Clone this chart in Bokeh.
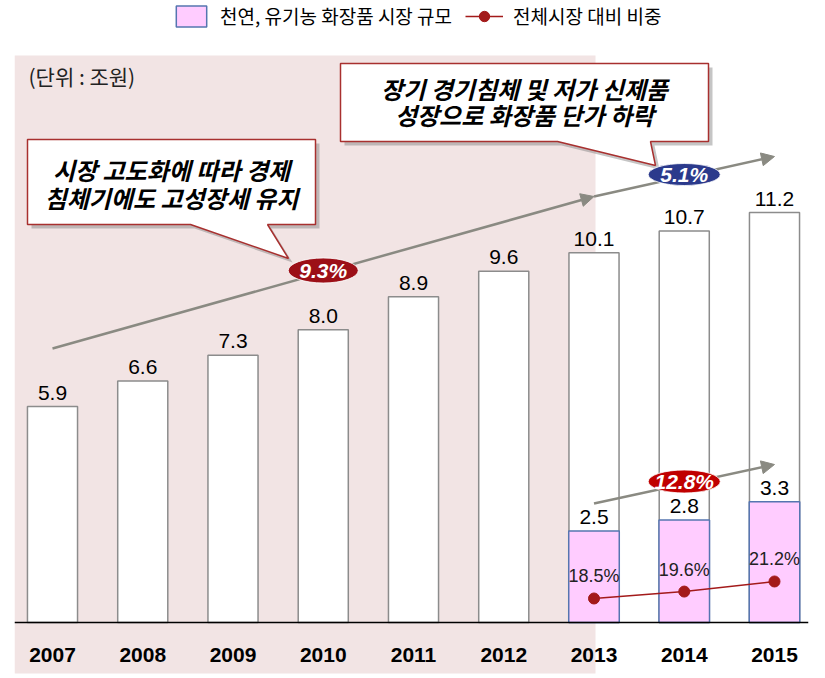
from bokeh.plotting import figure
from bokeh.models import Range1d, FixedTicker, Legend, LegendItem, Arrow, NormalHead
from bokeh.core.properties import value
from bokeh.embed import file_html
from bokeh.resources import INLINE

# ---------------- data ----------------
years = [2007, 2008, 2009, 2010, 2011, 2012, 2013, 2014, 2015]
market_total = [5.9, 6.6, 7.3, 8.0, 8.9, 9.6, 10.1, 10.7, 11.2]   # 전체 화장품 시장 (조원)
natural_years = [2013, 2014, 2015]
natural_market = [2.5, 2.8, 3.3]                                     # 천연, 유기농 화장품 시장 규모
share_pct = [18.5, 19.6, 21.2]                                       # 전체시장 대비 비중 (%)
cagr_labels = ["9.3%", "5.1%", "12.8%"]

legend_bar_label = "천연, 유기농 화장품 시장 규모"
legend_line_label = "전체시장 대비 비중"
unit_label = "(단위 : 조원)"
callout1 = ["시장 고도화에 따라 경제", "침체기에도 고성장세 유지"]
callout2 = ["장기 경기침체 및 저가 신제품", "성장으로 화장품 단가 하락"]

# ---------------- layout ----------------
W, H = 825, 678
LEFT, RIGHT = 14, 17
FW, FH = W - LEFT - RIGHT, H   # frame size
PX_YEAR = 90.25             # px per year
PX_UNIT = 36.6              # px per 조원
BASE = 622                  # baseline from frame top (px)
X0 = years[0] - 38 / PX_YEAR
Y0 = -(FH - BASE) / PX_UNIT
PX_PCT = 6.3
PCT_BASE = 14.69

def sx(px):   # page px -> data x
    return X0 + (px - LEFT) / PX_YEAR

def sy(py):   # page px -> data y
    return (BASE - py) / PX_UNIT

p = figure(width=W, height=H, output_backend="svg", toolbar_location=None,
           x_range=Range1d(X0, X0 + FW / PX_YEAR),
           y_range=Range1d(Y0, Y0 + FH / PX_UNIT),
           y_axis_location=None, min_border_left=LEFT, min_border_right=RIGHT,
           min_border_top=0, min_border_bottom=0)
p.extra_y_ranges = {"share": Range1d(PCT_BASE - (FH - BASE) / PX_PCT, PCT_BASE + BASE / PX_PCT)}
p.grid.visible = False
p.outline_line_color = None
p.background_fill_color = "white"
p.border_fill_color = "white"

# pink background for 2007-2013 period
p.quad(left=[X0], right=[sx(595)], bottom=[sy(673)], top=[sy(55)],
       fill_color="#F2E4E4", line_color=None)

# x axis
ax = p.xaxis[0]
ax.fixed_location = 0
ax.ticker = FixedTicker(ticks=years)
ax.major_tick_line_color = None
ax.minor_tick_line_color = None
ax.axis_line_color = "black"
ax.axis_line_width = 1.5
ax.major_label_text_font = "Liberation Sans"
ax.major_label_text_font_style = "bold"
ax.major_label_text_font_size = "21px"
ax.major_label_text_color = "black"
ax.major_label_standoff = 19

# bars
p.vbar(x=years, top=market_total, width=0.555, bottom=0,
       fill_color="white", line_color="#8C8C8C", line_width=1.5)
nat = p.vbar(x=natural_years, top=natural_market, width=0.56, bottom=0,
             fill_color="#FFCCFF", line_color="#5575B0", line_width=1.5)

p.text(x=years, y=market_total, text=[f"{v:.1f}" for v in market_total],
       text_align="center", text_baseline="bottom", y_offset=-7,
       text_font=value("Liberation Sans"), text_font_size="21px", text_color="black")
p.text(x=natural_years, y=natural_market, text=[f"{v:.1f}" for v in natural_market],
       text_align="center", text_baseline="bottom", y_offset=-7,
       text_font=value("Liberation Sans"), text_font_size="21px", text_color="black")

# share line
ln = p.line(x=natural_years, y=share_pct, y_range_name="share",
            line_color="#A31A1A", line_width=1.5)
sc = p.scatter(x=natural_years, y=share_pct, y_range_name="share", size=11,
               fill_color="#A31A1A", line_color="#A31A1A")
p.text(x=natural_years, y=share_pct, y_range_name="share",
       text=[f"{v:.1f}%" for v in share_pct], text_align="center",
       text_baseline="middle", y_offset=-22,
       text_font=value("Liberation Sans"), text_font_size="18px", text_color="#222222")

# growth arrows
arrow_col = "#8A8A82"
for (xa, ya, xb, yb) in [(years[0], sy(348), years[6], sy(196)),
                         (years[6], sy(196), years[8], sy(156)),
                         (years[6], sy(503), years[8], sy(464))]:
    p.add_layout(Arrow(x_start=xa, y_start=ya, x_end=xb, y_end=yb,
                       line_color=arrow_col, line_width=2.5,
                       end=NormalHead(size=13, fill_color=arrow_col, line_color=arrow_col)))

# CAGR ellipses (drawn above the arrows)
ex = [years[3], years[7], years[7]]
ey = [sy(270), sy(174), sy(481)]
p.ellipse(x=ex, y=ey, width=[70, 72, 72], height=[25, 22, 23],
          width_units="screen", height_units="screen",
          fill_color=["#9C0F17", "#2B3A8C", "#C00000"], line_color="white", line_width=0.8,
          level="overlay")
p.text(x=ex, y=ey, text=cagr_labels,
       text_align="center", text_baseline="middle",
       text_font=value("Liberation Sans"), text_font_style="bold italic",
       text_font_size="21px", text_color="white", level="overlay")

# callouts
def callout(box, ptr, lines, cx, ly):
    x1, y1, x2, y2 = box
    b1, b2, tx, ty = ptr
    pts = [(x1, y1), (x2, y1), (x2, y2), (b2, y2), (tx, ty), (b1, y2), (x1, y2)]
    p.patch([sx(a + 4) for a, _ in pts], [sy(b + 4) for _, b in pts],
            fill_color="#7F7F7F", fill_alpha=0.45, line_color=None)
    p.patch([sx(a) for a, _ in pts], [sy(b) for _, b in pts],
            fill_color="white", line_color="#A8302F", line_width=1.5)
    p.text(x=[sx(cx)] * len(lines), y=[sy(v) for v in ly], text=lines,
           text_align="center", text_baseline="middle",
           text_font=value("Noto Sans CJK KR"), text_font_style="bold italic",
           text_font_size="24px", text_color="black")

callout((27, 139, 315, 224), (190, 267, 288, 258), callout1, 171, [169, 197])
callout((340, 63, 708, 141), (557, 650, 655, 165), callout2, 524, [88, 114])

p.text(x=[sx(28)], y=[sy(75)], text=[unit_label], text_align="left", text_baseline="middle",
       text_font=value("Noto Sans CJK KR"), text_font_size="21px", text_color="#222222")

# legend
legend = Legend(items=[LegendItem(label=legend_bar_label, renderers=[nat]),
                       LegendItem(label=legend_line_label, renderers=[ln, sc])],
                orientation="horizontal", location=(158, FH - 3 - 26),
                glyph_width=38, glyph_height=26, label_standoff=10, spacing=13,
                padding=0, margin=0, border_line_color=None, background_fill_alpha=0,
                label_text_font="Noto Sans CJK KR", label_text_font_size="19px",
                label_text_color="black")
p.add_layout(legend)

open("out.html", "w").write(file_html(p, INLINE))
